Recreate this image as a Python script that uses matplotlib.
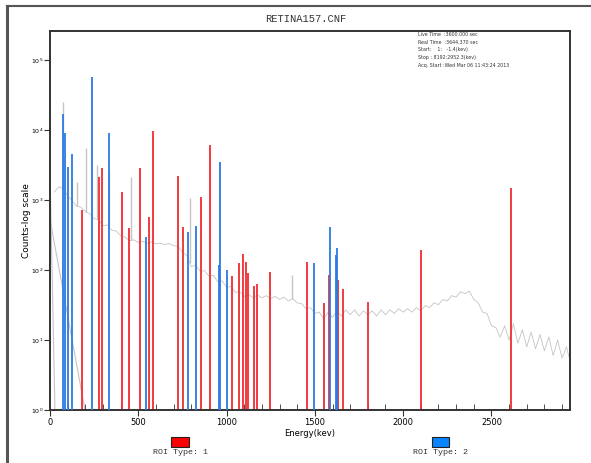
import numpy as np
import matplotlib.pyplot as plt
from matplotlib.lines import Line2D
from matplotlib.patches import Rectangle

# background spectrum (keV, counts)
spec_e = [25, 50, 75, 100, 125, 150, 175, 200, 225, 250, 275, 300, 325, 350, 375, 400,
          425, 450, 475, 500, 525, 550, 575, 600, 625, 650, 675, 700, 725, 750, 775, 800,
          825, 850, 875, 900, 925, 950, 975, 1000, 1025, 1050, 1075, 1100, 1125, 1150, 1175, 1200,
          1225, 1250, 1275, 1300, 1325, 1350, 1375, 1400, 1425, 1450, 1475, 1500, 1525, 1550, 1575, 1600,
          1625, 1650, 1675, 1700, 1725, 1750, 1775, 1800, 1825, 1850, 1875, 1900, 1925, 1950, 1975, 2000,
          2025, 2050, 2075, 2100, 2125, 2150, 2175, 2200, 2225, 2250, 2275, 2300, 2325, 2350, 2375, 2400,
          2425, 2450, 2475, 2500, 2525, 2550, 2575, 2600, 2625, 2650, 2675, 2700, 2725, 2750, 2775, 2800,
          2825, 2850, 2875, 2900, 2925, 2950]
spec_c = [1300, 1550, 1450, 1150, 980, 820, 790, 680, 640, 540, 520, 430, 440, 370, 360, 310,
          295, 262, 270, 248, 258, 240, 252, 236, 242, 230, 240, 222, 218, 180, 160, 112,
          118, 96, 98, 82, 84, 68, 70, 57, 58, 48, 49, 42, 45, 40, 44, 40,
          43, 39, 42, 38, 41, 36, 39, 34, 33, 28, 29, 24, 25, 20, 25, 21,
          26, 22, 27, 23, 27, 22, 26, 23, 26, 22, 27, 23, 27, 24, 28, 25,
          28, 25, 29, 26, 31, 29, 34, 32, 38, 36, 43, 41, 49, 46, 50, 38,
          34, 25, 24, 16, 15, 11, 16, 10, 17, 9, 14, 8, 13, 7.5, 12, 7,
          11, 6, 10, 5.5, 8, 4.5]

# low energy edge of the spectrum
lowa_e = [3, 28]
lowa_c = [1100, 1]
lowb_e = [0, 198]
lowb_c = [530, 1]

# unassigned peaks (gray)
gray_e = [74, 153, 204, 266, 332, 460, 792, 1370]
gray_c = [25000, 1800, 5500, 3200, 2500, 2100, 1070, 85]

# ROI type 1 (red)
red_e = [181, 277, 295, 406, 449, 508, 559, 583, 723, 752, 856, 908, 1030, 1070,
         1093, 1110, 1121, 1155, 1172, 1245, 1455, 1551, 1580, 1630, 1659, 1800, 2101, 2610]
red_c = [720, 2100, 2900, 1300, 400, 2900, 570, 9700, 2200, 410, 1100, 6100, 82, 126,
         170, 130, 91, 59, 63, 94, 130, 34, 85, 72, 53, 35, 193, 1500]

# ROI type 2 (blue)
blue_e = [74, 85, 102, 125, 238, 334, 543, 781, 826, 957, 962, 1001, 1494, 1585, 1617, 1628]
blue_c = [17000, 9000, 3000, 4500, 57000, 9000, 300, 350, 430, 118, 3500, 100, 126, 410, 163, 205]

info = ["Live Time  :3600.000 sec",
        "Real Time  :3644.370 sec",
        "Start:    1:   -1.4(kev)",
        "Stop : 8192:2952.3(kev)",
        "Acq. Start :Wed Mar 06 11:43:24 2013"]

fig = plt.figure(figsize=(5.91, 4.63), dpi=100)
ax = fig.add_axes([50/591, 1-410/463, 520/591, 379/463])

gcol = '#c4c4c4'
ax.plot(spec_e, spec_c, color=gcol, lw=0.6, zorder=1)
ax.plot(lowa_e, lowa_c, color=gcol, lw=0.8, zorder=1)
ax.plot(lowb_e, lowb_c, color=gcol, lw=0.8, zorder=1)
gbase = np.interp(gray_e, spec_e, spec_c)
ax.vlines(gray_e, gbase, gray_c, color=gcol, lw=1.0, zorder=1)

ax.vlines(red_e, 1, red_c, color='#f02d32', lw=1.3, zorder=2)
ax.vlines(blue_e, 1, blue_c, color='#2b7be0', lw=1.3, zorder=3)

ax.set_yscale('log')
ax.set_ylim(1, 2.6e5)
ax.set_xlim(0, 2945)
ax.set_xticks([0, 500, 1000, 1500, 2000, 2500])
ax.set_xticks(np.arange(100, 2945, 100), minor=True)
ax.set_yticks([1, 10, 100, 1e3, 1e4, 1e5])
ax.yaxis.set_minor_locator(plt.NullLocator())
ax.tick_params(axis='x', which='major', direction='out', length=4, labelsize=6, color='#333333', pad=2)
ax.tick_params(axis='x', which='minor', direction='in', length=4, color='#333333')
ax.tick_params(axis='y', which='major', direction='out', length=4, labelsize=4.5, color='#333333', pad=1)
for s in ax.spines.values():
    s.set_linewidth(1.4)
    s.set_color('#333333')

ax.set_xlabel("Energy(kev)", fontsize=6, labelpad=1)
ax.set_ylabel("Counts-log scale", fontsize=6.5, labelpad=0)
fig.text(0.518, 1-19/463, "RETINA157.CNF", family='Liberation Mono', fontsize=7.5,
         ha='center', va='center', color='#333333')

for i, line in enumerate(info):
    fig.text(418/591, 1-(35+7.5*i)/463, line, fontsize=3.4, va='center', ha='left', color='#333333')

# outer frame
fig.add_artist(Line2D([7/591, 7/591], [0, 1-6/463], color='#555555', lw=2.2))
fig.add_artist(Line2D([7/591, 1], [1-6/463, 1-6/463], color='#555555', lw=1.5))

# legend boxes
fig.add_artist(Rectangle((171/591, 1-447/463), 18/591, 10/463, facecolor='#ff0000',
                         edgecolor='#222222', lw=0.8))
fig.text(180/591, 1-452/463, "ROI Type: 1", family='Liberation Mono', fontsize=6,
         ha='center', va='center', color='#333333')
fig.add_artist(Rectangle((432/591, 1-447/463), 17/591, 10/463, facecolor='#0a84ff',
                         edgecolor='#222222', lw=0.8))
fig.text(440/591, 1-452/463, "ROI Type: 2", family='Liberation Mono', fontsize=6,
         ha='center', va='center', color='#333333')

fig.savefig("out.png", dpi=100)
